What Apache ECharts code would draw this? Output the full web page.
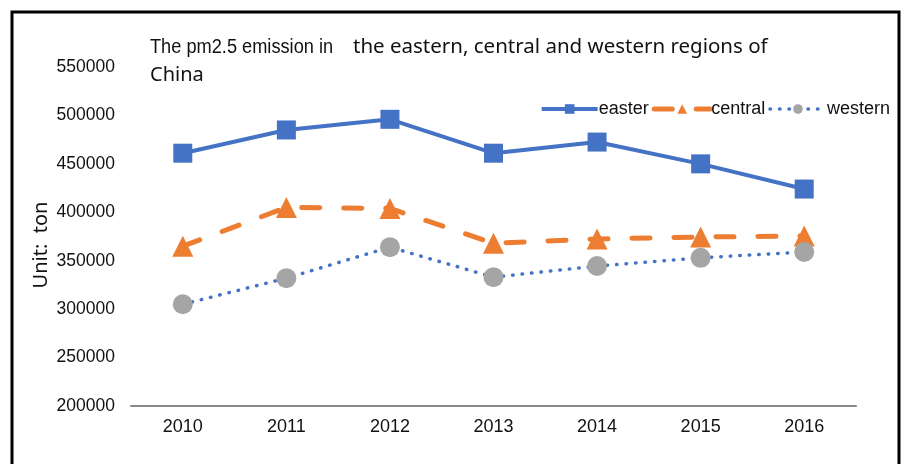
<!DOCTYPE html>
<html><head><meta charset="utf-8">
<script src="https://cdn.jsdelivr.net/npm/echarts@6/dist/echarts.min.js"></script>
<style>html,body{margin:0;padding:0;background:#fff}#c{width:904px;height:464px}</style>
</head><body><div id="c"></div>
<script>
const categories = ['2010','2011','2012','2013','2014','2015','2016'];
const eastern = [461000, 485000, 496000, 461000, 472500, 450000, 424000];
const central = [365000, 405000, 404000, 368000, 372500, 374500, 375500];
const western = [305000, 332000, 364000, 333000, 344500, 353000, 359000];
const yTicks = [200000, 550000, 50000];
const seriesNames = ['easter', 'central', 'western'];

const chart = echarts.init(document.getElementById('c'), null, {renderer:'canvas'});
chart.setOption({
  animation:false,
  backgroundColor:'#fff',
  grid:{left:131, right:48, top:67, bottom:58, containLabel:false},
  legend:{
    right:9, top:95, itemWidth:56, itemHeight:12, itemGap:3,
    lineStyle:{width:'inherit'},
    textStyle:{fontFamily:'Liberation Sans', fontSize:18, color:'#111', padding:[0,0,0,-4]},
    data:seriesNames
  },
  xAxis:{
    type:'category', data:categories, boundaryGap:true,
    axisLine:{lineStyle:{color:'#8a8a8a', width:2}},
    axisTick:{show:false},
    axisLabel:{fontFamily:'Liberation Sans', fontSize:18, color:'#111', margin:12}
  },
  yAxis:{
    type:'value', min:yTicks[0], max:yTicks[1], interval:yTicks[2],
    axisLine:{show:false}, axisTick:{show:false}, splitLine:{show:false},
    axisLabel:{fontFamily:'Liberation Sans', fontSize:17.5, color:'#111', margin:16,
      formatter:function(v){return String(v);}}
  },
  graphic:[
    {type:'rect', shape:{x:12, y:12, width:887, height:480}, style:{fill:'none', stroke:'#000', lineWidth:3}, z:100},
    {type:'text', x:150, y:47, scaleX:0.91, style:{text:'The pm2.5 emission in', font:'20px "Liberation Sans"', fill:'#111', textVerticalAlign:'middle'}},
    {type:'text', x:353, y:47, style:{text:'the eastern, central and western regions of', font:'20.5px "Noto Sans"', fill:'#111', textVerticalAlign:'middle'}},
    {type:'text', x:150, y:75, style:{text:'China', font:'20px "Noto Sans"', fill:'#111', textVerticalAlign:'middle'}},
    {type:'text', x:41, y:245, rotation:Math.PI/2, style:{text:'Unit:  ton', font:'20px "Noto Sans"', fill:'#111', textAlign:'center', textVerticalAlign:'middle'}}
  ],
  series:[
    {name:seriesNames[0], type:'line', data:eastern, symbol:'rect', symbolSize:19,
     itemStyle:{color:'#4472C4'}, lineStyle:{color:'#4472C4', width:4}},
    {name:seriesNames[1], type:'line', data:central, symbol:'triangle', symbolSize:21,
     itemStyle:{color:'#ED7D31'}, lineStyle:{color:'#ED7D31', width:5, type:[18,24], cap:'round'}},
    {name:seriesNames[2], type:'line', data:western, symbol:'circle', symbolSize:20,
     itemStyle:{color:'#A5A5A5'}, lineStyle:{color:'#4472C4', width:3.5, type:[0.5,9], cap:'round'}}
  ]
});
</script></body></html>
